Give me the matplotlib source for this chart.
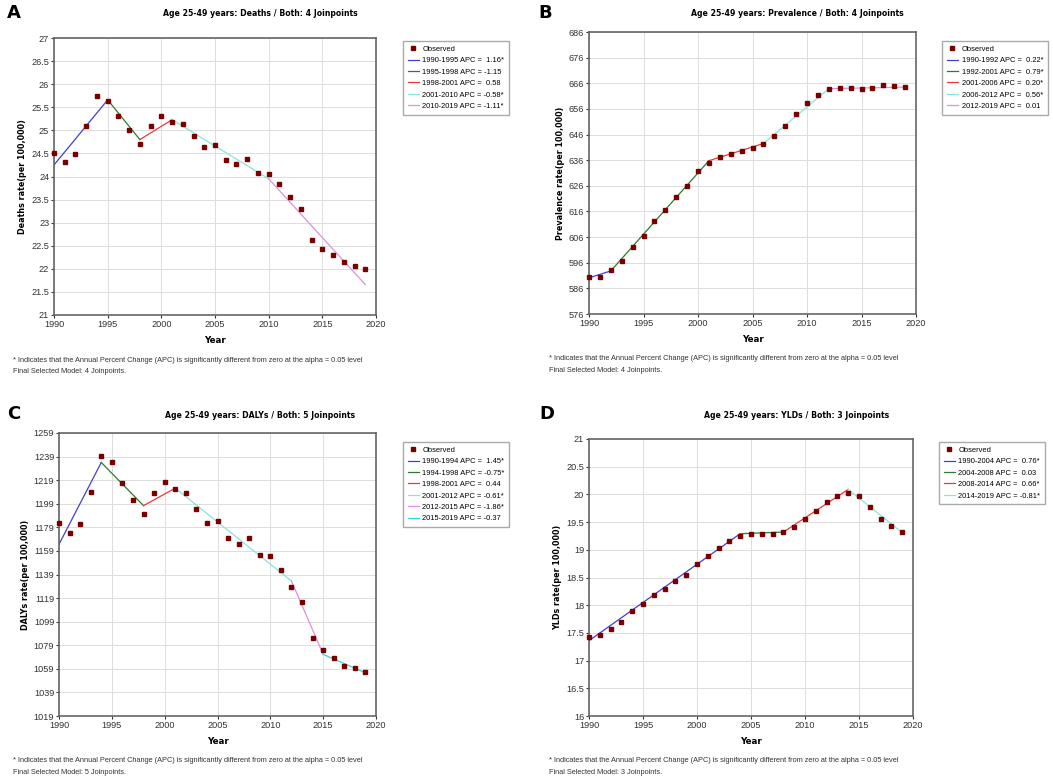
"""Joinpoint regression panels for the 25-49 age group (Deaths, Prevalence, DALYs, YLDs)."""

import matplotlib

matplotlib.use("Agg")
import matplotlib.pyplot as plt
from matplotlib.lines import Line2D

YEARS = list(range(1990, 2020))

DEATHS = [24.51, 24.32, 24.49, 25.09, 25.74, 25.64, 25.30, 25.00, 24.71, 25.09,
          25.30, 25.17, 25.14, 24.88, 24.63, 24.68, 24.35, 24.26, 24.37, 24.08,
          24.06, 23.84, 23.56, 23.30, 22.63, 22.43, 22.29, 22.14, 22.07, 21.99]
DEATHS_JP_YEARS = [1990, 1995, 1998, 2001, 2010, 2019]
DEATHS_JP_FIT = [24.25, 25.66, 24.80, 25.23, 23.95, 21.66]
DEATHS_APC = ["1990-1995 APC =  1.16*", "1995-1998 APC = -1.15",
              "1998-2001 APC =  0.58", "2001-2010 APC = -0.58*",
              "2010-2019 APC = -1.11*"]

PREVALENCE = [590.5, 590.4, 593.2, 596.8, 602.0, 606.5, 612.2, 616.5, 621.5, 625.8,
              631.9, 635.0, 637.3, 638.6, 639.6, 640.7, 642.5, 645.4, 649.4, 654.2,
              658.2, 661.3, 663.6, 664.3, 664.1, 663.6, 664.3, 665.3, 664.8, 664.5]
PREV_JP_YEARS = [1990, 1992, 2001, 2006, 2012, 2019]
PREV_JP_FIT = [590.1, 592.8, 635.8, 642.5, 663.9, 664.5]
PREV_APC = ["1990-1992 APC =  0.22*", "1992-2001 APC =  0.79*",
            "2001-2006 APC =  0.20*", "2006-2012 APC =  0.56*",
            "2012-2019 APC =  0.01"]

DALYS = [1182.6, 1174.4, 1182.0, 1208.7, 1239.8, 1234.0, 1216.9, 1202.6, 1190.4, 1208.2,
         1217.2, 1211.1, 1207.9, 1194.5, 1182.9, 1184.6, 1169.8, 1165.2, 1170.1, 1155.9,
         1154.4, 1143.1, 1128.5, 1116.0, 1085.5, 1075.1, 1068.4, 1061.4, 1060.0, 1056.2]
DALYS_JP_YEARS = [1990, 1994, 1998, 2001, 2012, 2015, 2019]
DALYS_JP_FIT = [1164.6, 1234.0, 1197.4, 1212.2, 1133.5, 1071.3, 1055.6]
DALYS_APC = ["1990-1994 APC =  1.45*", "1994-1998 APC = -0.75*",
             "1998-2001 APC =  0.44", "2001-2012 APC = -0.61*",
             "2012-2015 APC = -1.86*", "2015-2019 APC = -0.37"]

YLDS = [17.42, 17.46, 17.57, 17.70, 17.89, 18.03, 18.19, 18.30, 18.43, 18.54,
        18.74, 18.89, 19.04, 19.16, 19.25, 19.28, 19.29, 19.29, 19.33, 19.42,
        19.55, 19.70, 19.87, 19.98, 20.02, 19.97, 19.77, 19.55, 19.43, 19.33]
YLDS_JP_YEARS = [1990, 2004, 2008, 2014, 2019]
YLDS_JP_FIT = [17.36, 19.29, 19.32, 20.09, 19.31]
YLDS_APC = ["1990-2004 APC =  0.76*", "2004-2008 APC =  0.03",
            "2008-2014 APC =  0.66*", "2014-2019 APC = -0.81*"]

SEG_COLORS = ["#4040cc", "#2e7a2e", "#e03c3c", "#88e4dc", "#e08ee0", "#2ed8e0"]
OBS_COLOR = "#7a0000"
NARROW = "Liberation Sans"
FOOT = ("* Indicates that the Annual Percent Change (APC) is significantly "
        "different from zero at the alpha = 0.05 level")

W, H = 1053, 781


def fx(px):
    return px / W


def fy(py):
    return 1 - py / H


def panel(fig, box, letter, title, title_x, top, ylabel, yticks, values,
          jp_years, jp_fit, apc, legend_xy, n_joinpoints, foot_x):
    x0, y0, x1, y1 = box
    ax = fig.add_axes([fx(x0), fy(y1), fx(x1 - x0), (y1 - y0) / H])
    ax.grid(True, color="#dddddd", linewidth=0.7)
    ax.set_axisbelow(True)
    handles = [Line2D([], [], ls="none", marker="s", ms=2.8, color=OBS_COLOR,
                      label="Observed")]
    for i in range(len(jp_years) - 1):
        line, = ax.plot(jp_years[i:i + 2], jp_fit[i:i + 2],
                        color=SEG_COLORS[i], lw=0.9, label=apc[i], zorder=2)
        handles.append(line)
    ax.plot(YEARS, values, ls="none", marker="s", ms=3.3, color=OBS_COLOR,
            zorder=3, clip_on=False)
    ax.set_xlim(1990, 2020)
    ax.set_xticks(range(1990, 2021, 5))
    ax.set_ylim(yticks[0], yticks[-1])
    ax.set_yticks(yticks)
    ax.set_yticklabels([f"{t:g}" for t in yticks])
    ax.tick_params(labelsize=6.6, length=2, pad=1.5, colors="#333333")
    for lab in ax.get_xticklabels() + ax.get_yticklabels():
        lab.set_family(NARROW)
    for s in ax.spines.values():
        s.set_color("#666666")
        s.set_linewidth(1.2)
    ax.set_xlabel("Year", fontsize=6.3, fontweight="bold", labelpad=5)
    ax.set_ylabel(ylabel, fontsize=5.8, fontweight="bold", labelpad=3)

    fig.legend(handles=handles, loc="upper left",
               bbox_to_anchor=(fx(legend_xy[0]), fy(legend_xy[1])),
               prop={"family": NARROW, "size": 5.4}, frameon=True,
               fancybox=False, edgecolor="#aaaaaa", framealpha=1,
               handlelength=1.5, handletextpad=0.5, labelspacing=0.56,
               borderpad=0.6, borderaxespad=0)

    fig.text(fx(letter[1]), fy(letter[2]), letter[0], fontsize=13,
             fontweight="bold", ha="left", va="center")
    fig.text(fx(title_x), fy(top), title, fontsize=5.6, fontweight="bold",
             ha="center", va="center")
    fig.text(fx(foot_x), fy(y1 + 45), FOOT, fontsize=5.3, family=NARROW,
             ha="left", va="center", color="#333333")
    fig.text(fx(foot_x), fy(y1 + 56), f"Final Selected Model: {n_joinpoints} Joinpoints.",
             fontsize=5.3, family=NARROW, ha="left", va="center", color="#333333")


def main():
    fig = plt.figure(figsize=(W / 100, H / 100), dpi=100)

    panel(fig, (54, 38, 376, 315), ("A", 7, 13),
          "Age 25-49 years: Deaths / Both: 4 Joinpoints", 260, 14,
          "Deaths rate(per 100,000)", [21 + 0.5 * i for i in range(13)],
          DEATHS, DEATHS_JP_YEARS, DEATHS_JP_FIT, DEATHS_APC, (403, 41), 4, 13)

    panel(fig, (589, 32, 916, 314), ("B", 538, 13),
          "Age 25-49 years: Prevalence / Both: 4 Joinpoints", 797, 14,
          "Prevalence rate(per 100,000)", list(range(576, 687, 10)),
          PREVALENCE, PREV_JP_YEARS, PREV_JP_FIT, PREV_APC, (942, 41), 4, 549)

    panel(fig, (59, 433, 376, 716), ("C", 7, 414),
          "Age 25-49 years: DALYs / Both: 5 Joinpoints", 260, 415,
          "DALYs rate(per 100,000)", list(range(1019, 1260, 20)),
          DALYS, DALYS_JP_YEARS, DALYS_JP_FIT, DALYS_APC, (403, 442), 5, 13)

    panel(fig, (589, 439, 913, 716), ("D", 539, 414),
          "Age 25-49 years: YLDs / Both: 3 Joinpoints", 797, 415,
          "YLDs rate(per 100,000)", [16 + 0.5 * i for i in range(11)],
          YLDS, YLDS_JP_YEARS, YLDS_JP_FIT, YLDS_APC, (939, 442), 3, 549)

    fig.savefig("out.png", dpi=100)
    plt.close(fig)


if __name__ == "__main__":
    main()
